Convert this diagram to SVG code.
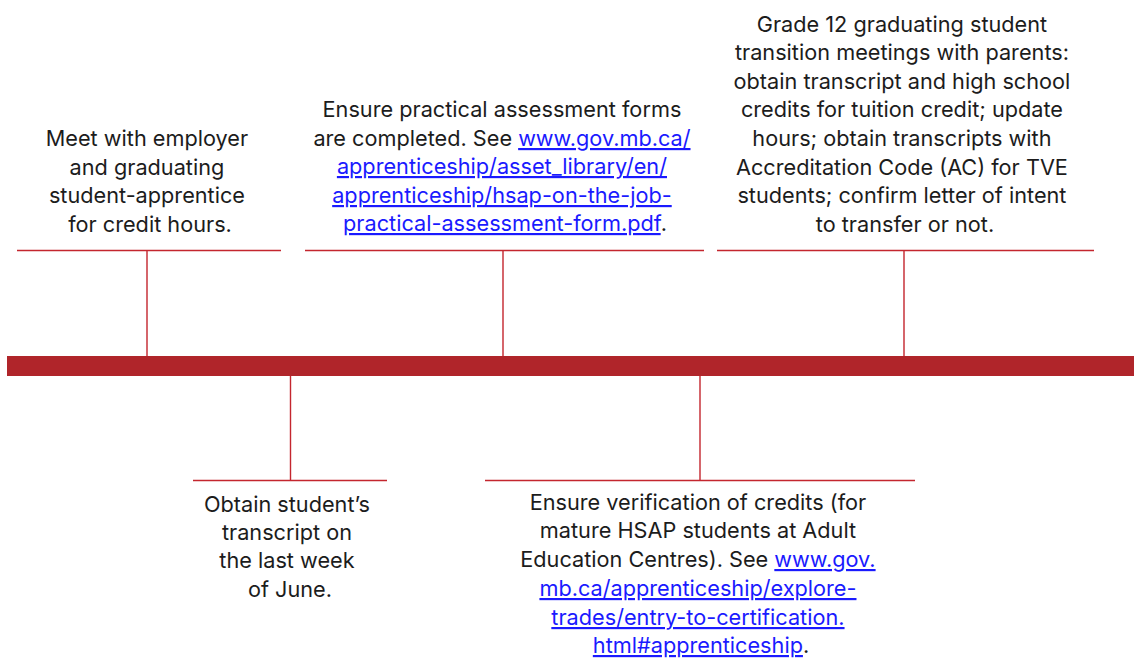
<svg xmlns="http://www.w3.org/2000/svg" width="1134" height="660" viewBox="0 0 1134 660">
  <style>
    .lbl { font-family: Inter, "Liberation Sans", sans-serif; font-size: 21.7px; fill: #1c1c1c; text-anchor: middle; }
    .lnk { fill: #1a1aff; text-decoration: underline; }
    .tick { stroke: #c4262e; stroke-width: 1.4; fill: none; }
  </style>
  <rect width="1134" height="660" fill="#ffffff"/>

  <!-- timeline bar and tick connectors -->
  <g id="connectors">
    <rect x="7" y="356" width="1127" height="20" fill="#b0252a"/>
    <path class="tick" d="M17 250.5H281M147 250.5V356"/>
    <path class="tick" d="M305 250.5H704M503 250.5V356"/>
    <path class="tick" d="M717 250.5H1094M904 250.5V356"/>
    <path class="tick" d="M193 480.5H387M290.5 376V480.5"/>
    <path class="tick" d="M485 480.5H915M700 376V480.5"/>
  </g>

  <g id="meet-employer">
    <text class="lbl" x="150">
      <tspan x="150" y="146">Meet with employer</tspan>
      <tspan x="150" y="175">and graduating</tspan>
      <tspan x="150" y="203">student-apprentice</tspan>
      <tspan x="150" y="232">for credit hours.</tspan>
    </text>
  </g>

  <g id="assessment-forms">
    <text class="lbl" x="505">
      <tspan x="505" y="117">Ensure practical assessment forms</tspan>
      <tspan x="505" y="146">are completed. See <tspan class="lnk">www.gov.mb.ca/</tspan></tspan>
      <tspan x="505" y="174" class="lnk">apprenticeship/asset_library/en/</tspan>
      <tspan x="505" y="203" class="lnk">apprenticeship/hsap-on-the-job-</tspan>
      <tspan x="505" y="231"><tspan class="lnk">practical-assessment-form.pdf</tspan>.</tspan>
    </text>
  </g>

  <g id="transition-meetings">
    <text class="lbl" x="905">
      <tspan x="905" y="32">Grade 12 graduating student</tspan>
      <tspan x="905" y="60">transition meetings with parents:</tspan>
      <tspan x="905" y="89">obtain transcript and high school</tspan>
      <tspan x="905" y="117">credits for tuition credit; update</tspan>
      <tspan x="905" y="146">hours; obtain transcripts with</tspan>
      <tspan x="905" y="175">Accreditation Code (AC) for TVE</tspan>
      <tspan x="905" y="203">students; confirm letter of intent</tspan>
      <tspan x="905" y="232">to transfer or not.</tspan>
    </text>
  </g>

  <g id="obtain-transcript">
    <text class="lbl" x="290">
      <tspan x="290" y="512">Obtain student’s</tspan>
      <tspan x="290" y="540">transcript on</tspan>
      <tspan x="290" y="568">the last week</tspan>
      <tspan x="290" y="597">of June.</tspan>
    </text>
  </g>

  <g id="verify-credits">
    <text class="lbl" x="701">
      <tspan x="701" y="510">Ensure verification of credits (for</tspan>
      <tspan x="701" y="538">mature HSAP students at Adult</tspan>
      <tspan x="701" y="567">Education Centres). See <tspan class="lnk">www.gov.</tspan></tspan>
      <tspan x="701" y="596" class="lnk">mb.ca/apprenticeship/explore-</tspan>
      <tspan x="701" y="625" class="lnk">trades/entry-to-certification.</tspan>
      <tspan x="701" y="653"><tspan class="lnk">html#apprenticeship</tspan>.</tspan>
    </text>
  </g>
</svg>
